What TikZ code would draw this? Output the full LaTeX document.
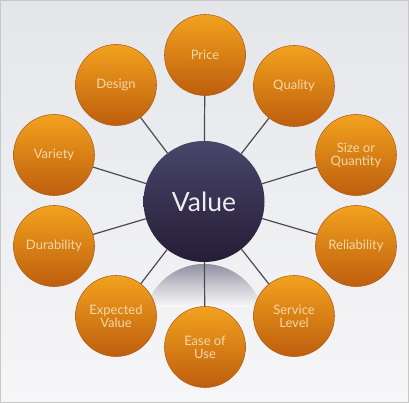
\documentclass[tikz,border=0pt]{standalone}
\usepackage{fontspec}
\setmainfont{Lato}
\definecolor{bgtop}{HTML}{E4E6EA}
\definecolor{bgbot}{HTML}{F6F6F8}
\definecolor{ortop}{HTML}{F2A21E}
\definecolor{orbot}{HTML}{BE5E0E}
\definecolor{orline}{HTML}{B0621E}
\definecolor{ortext}{HTML}{F4D8A6}
\definecolor{vtop}{HTML}{48466A}
\definecolor{vbot}{HTML}{261D36}
\definecolor{conn}{HTML}{4A4A50}
\definecolor{refl}{HTML}{8E8C9E}
\tikzset{
  outer/.style={circle, minimum size=81pt, inner sep=0pt, top color=ortop, bottom color=orbot, draw=orline, line width=0.6pt, text=ortext, font=\fontsize{13}{15}\selectfont, align=center},
  hub/.style={circle, minimum size=121pt, inner sep=0pt, top color=vtop, bottom color=vbot, text=white!90!vtop, font=\fontsize{26.5}{30}\selectfont},
  link/.style={draw=conn, line width=1.2pt}
}
\begin{document}
\begin{tikzpicture}[x=1pt,y=-1pt]
\useasboundingbox (0,0) rectangle (409,403);
\shade[top color=bgtop, bottom color=bgbot] (0,0) rectangle (409,403);
\draw[color=black!22, line width=0.8pt] (0.4,0.4) rectangle (408.6,402.6);
% reflection
\begin{scope}
\clip (204,324) circle (60);
\shade[top color=refl, bottom color=bgbot, middle color=refl!45!bgbot] (140,263) rectangle (270,306);
\end{scope}
\node[hub] (v) at (204,201.5) {Value};
\node[outer] (price) at (205,55) {Price};
\node[outer] (quality) at (294,86) {Quality};
\node[outer] (size) at (356,155) {Size or\\[-2pt]Quantity};
\node[outer] (rel) at (356,246) {Reliability};
\node[outer] (serv) at (294,316) {Service\\[-2pt]Level};
\node[outer] (ease) at (205,347) {Ease of\\[-2pt]Use};
\node[outer] (exp) at (116,316) {Expected\\[-2pt]Value};
\node[outer] (dur) at (54,246) {Durability};
\node[outer] (var) at (54,155) {Variety};
\node[outer] (des) at (116,85) {Design};
\foreach \n in {price,quality,size,rel,serv,ease,exp,dur,var,des}
  \draw[link] (v) -- (\n);
\end{tikzpicture}
\end{document}
